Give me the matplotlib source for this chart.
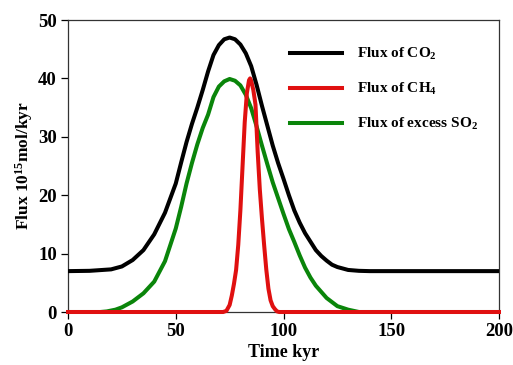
import matplotlib
matplotlib.use("Agg")
import matplotlib.pyplot as plt

# -----------------------------
# Data
# -----------------------------
co2_time = [0, 10, 20, 25, 30, 35, 40, 45, 50, 52.5, 55, 57.5, 60, 62.5, 65, 67.5, 70,
            72.5, 75, 77.5, 80, 82.5, 85, 87.5, 90, 92.5, 95, 97.5, 100, 102.5, 105,
            107.5, 110, 115, 117.5, 120, 122.5, 125, 130, 135, 140, 150, 200]
co2_flux = [7.0, 7.05, 7.3, 7.8, 8.9, 10.6, 13.3, 17.0, 22.0, 25.6, 29.1, 32.2, 35.0,
            38.0, 41.2, 44.0, 45.7, 46.7, 47.0, 46.7, 45.8, 44.3, 42.1, 38.9, 35.3, 31.9,
            28.5, 25.5, 22.8, 20.0, 17.4, 15.3, 13.5, 10.6, 9.6, 8.8, 8.1, 7.7, 7.2, 7.05,
            7.0, 7.0, 7.0]

so2_time = [0, 15, 18, 22, 25, 30, 35, 40, 45, 50, 52.5, 55, 57.5, 60, 62.5, 65, 67.5,
            70, 72.5, 75, 77.5, 80, 82.5, 85, 87.5, 90, 92.5, 95, 97.5, 100, 102.5, 105,
            107.5, 110, 112.5, 115, 120, 125, 130, 135, 200]
so2_flux = [0, 0, 0.1, 0.4, 0.8, 1.8, 3.2, 5.2, 8.7, 14.3, 18.0, 22.0, 25.5, 28.7, 31.5,
            33.8, 36.8, 38.6, 39.5, 39.9, 39.6, 38.8, 37.2, 34.9, 31.8, 28.5, 25.3, 22.2,
            19.5, 16.8, 14.2, 12.0, 9.7, 7.6, 5.9, 4.5, 2.4, 1.0, 0.4, 0, 0]

ch4_time = [0, 72, 73.5, 75, 76, 77, 78, 79, 80, 81, 82, 83, 84, 84.5, 85, 86, 87, 88,
            89, 90, 91, 92, 93, 94, 95, 96, 97, 98, 200]
ch4_flux = [0, 0, 0.2, 1.2, 2.8, 4.8, 7.2, 11.5, 17.5, 25.0, 32.5, 37.5, 39.7, 40.0, 39.6,
            38.0, 35.5, 27.5, 21.0, 16.0, 11.5, 7.3, 4.0, 2.0, 1.0, 0.5, 0.1, 0, 0]

x_ticks = [0, 50, 100, 150, 200]
y_ticks = [0, 10, 20, 30, 40, 50]

# -----------------------------
# Style
# -----------------------------
plt.rcParams["font.family"] = ["Liberation Serif", "DejaVu Serif"]
plt.rcParams["font.weight"] = "bold"
plt.rcParams["mathtext.fontset"] = "custom"
plt.rcParams["mathtext.rm"] = "Liberation Serif:bold"
plt.rcParams["mathtext.bf"] = "Liberation Serif:bold"
plt.rcParams["mathtext.it"] = "Liberation Serif:bold"

LW = 2.9

fig = plt.figure(figsize=(5.13, 3.65), dpi=100)
ax = fig.add_axes([0.1326, 0.1452, 0.8401, 0.8000])

ax.plot(co2_time, co2_flux, color="black", lw=LW, label=r"Flux of CO$_2$", zorder=4)
ax.plot(so2_time, so2_flux, color="#0a850a", lw=LW, label=r"Flux of excess SO$_2$",
        zorder=2)
ax.plot(ch4_time, ch4_flux, color="#e01010", lw=LW, label=r"Flux of CH$_4$", zorder=3,
        clip_on=False)

ax.set_xlim(0, 200)
ax.set_ylim(0, 50)
ax.set_xticks(x_ticks)
ax.set_yticks(y_ticks)
ax.tick_params(direction="out", length=5, width=0.9, labelsize=13.5,
               top=False, right=False, pad=3)
for lbl in ax.get_xticklabels() + ax.get_yticklabels():
    lbl.set_fontweight("bold")

for sp in ax.spines.values():
    sp.set_linewidth(0.9)
    sp.set_color("#333333")

ax.set_xlabel("Time kyr", fontsize=13, fontweight="bold", labelpad=3)
ax.set_ylabel(r"Flux 10$^{15}$mol/kyr", fontsize=12.5, fontweight="bold", labelpad=2)

handles, labels = ax.get_legend_handles_labels()
order = [0, 2, 1]
ax.legend([handles[i] for i in order], [labels[i] for i in order],
          loc="upper left", bbox_to_anchor=(290 / 513, 1 - 46 / 365),
          bbox_transform=fig.transFigure, frameon=False,
          handlelength=3.4, handletextpad=1.0, labelspacing=1.25, borderpad=0,
          borderaxespad=0, prop={"weight": "bold", "size": 11})

fig.savefig("out.png", dpi=100)
